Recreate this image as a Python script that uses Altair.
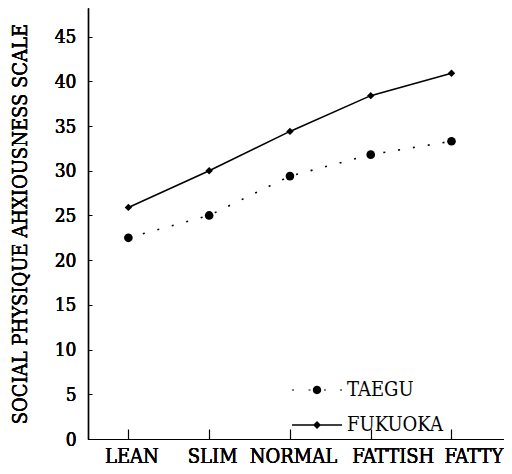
import altair as alt
import pandas as pd

categories = ["LEAN", "SLIM", "NORMAL", "FATTISH", "FATTY"]
taegu = [22.5, 25.0, 29.4, 31.8, 33.3]
fukuoka = [25.9, 30.0, 34.4, 38.4, 40.9]
series_names = ["TAEGU", "FUKUOKA"]
y_ticks = [0, 5, 10, 15, 20, 25, 30, 35, 40, 45]
cat_index = list(range(len(categories)))

rows = []
for i, c in enumerate(categories):
    rows.append({"idx": i, "cat": c, "series": "TAEGU", "value": taegu[i]})
    rows.append({"idx": i, "cat": c, "series": "FUKUOKA", "value": fukuoka[i]})
df = pd.DataFrame(rows)

FONT = "DejaVu Serif Condensed"
W, H = 416, 431
label_expr = "[" + ",".join(f"'{c}'" for c in categories) + "][datum.value]"

x_scale = alt.Scale(domain=[-0.5, 4.65], nice=False, zero=False)
y_scale = alt.Scale(domain=[0, 48.2], nice=False)

x_axis_bottom = alt.Axis(orient="bottom", values=cat_index, labelExpr=label_expr, title=None, ticks=False,
                         grid=False, domainColor="black", domainWidth=1.2,
                         labelFont=FONT, labelFontSize=20, labelColor="black",
                         labelOffset={"condition": {"test": "datum.value >= 3", "value": 22}, "value": 3},
                         labelPadding=7, labelAngle=0, labelFlush=False, labelOverlap=False)
x_axis_top = alt.Axis(orient="top", offset=-H, values=cat_index, labels=False, domain=False,
                      grid=False, ticks=True, tickSize=10, tickColor="black", tickWidth=1.2, title=None)
y_axis_left = alt.Axis(orient="left", values=y_ticks, ticks=False, grid=False, domainColor="black", domainWidth=1.2,
                       labelFont=FONT, labelFontSize=19, labelColor="black", labelPadding=12,
                       title="SOCIAL PHYSIQUE AHXIOUSNESS SCALE", titleFont=FONT, titleFontSize=20,
                       titleFontWeight="normal", titleColor="black", titlePadding=24)
y_axis_right = alt.Axis(orient="right", offset=-W, values=y_ticks, labels=False, domain=False,
                        grid=False, ticks=True, tickSize=4, tickColor="black", tickWidth=1, title=None)

base = alt.Chart(df)
xe = alt.X("idx:Q", scale=x_scale, axis=x_axis_bottom)
ye = alt.Y("value:Q", scale=y_scale, axis=y_axis_left)

fuk_line = base.transform_filter(alt.datum.series == "FUKUOKA").mark_line(
    color="black", strokeWidth=1.6).encode(x=xe, y=ye)
tae_line = base.transform_filter(alt.datum.series == "TAEGU").mark_line(
    color="black", strokeWidth=1.6, strokeDash=[2, 13]).encode(x=xe, y=ye)
tae_pts = base.transform_filter(alt.datum.series == "TAEGU").mark_circle(
    color="black", size=75, opacity=1).encode(x=xe, y=ye)
fuk_pts = base.transform_filter(alt.datum.series == "FUKUOKA").mark_point(
    shape="diamond", filled=True, color="black", size=55, opacity=1).encode(x=xe, y=ye)
tick_layer = base.mark_point(opacity=0).encode(
    x=alt.X("idx:Q", scale=x_scale, axis=x_axis_top),
    y=alt.Y("value:Q", scale=y_scale, axis=y_axis_right))

def dot(cx):
    return f"M{cx-0.1},-0.06L{cx+0.1},-0.06L{cx+0.1},0.06L{cx-0.1},0.06Z"

taegu_sym = (dot(-2.4) + dot(-0.75) + dot(0.8) + dot(2.4) +
             "M0.42,0A0.42,0.42,0,1,1,-0.42,0A0.42,0.42,0,1,1,0.42,0Z")
fuk_sym = ("M-2.5,-0.065L2.5,-0.065L2.5,0.065L-2.5,0.065Z"
           "M0,-0.4L0.4,0L0,0.4L-0.4,0Z")

legend_layer = base.transform_filter("false").mark_point(
    filled=True, color="black", opacity=1).encode(
    shape=alt.Shape("series:N",
                    scale=alt.Scale(domain=series_names, range=[taegu_sym, fuk_sym]),
                    legend=alt.Legend(title=None, orient="none", legendX=219, legendY=372,
                                      symbolSize=400, symbolFillColor="black",
                                      symbolStrokeWidth=0,
                                      symbolOpacity=1, labelFont=FONT, labelFontSize=20,
                                      labelColor="black", labelOffset=20, rowPadding=15,
                                      labelLimit=300)))

chart = alt.layer(fuk_line, tae_line, tae_pts, fuk_pts, tick_layer, legend_layer).resolve_axis(
    x="independent", y="independent").properties(
    width=W, height=H,
    autosize=alt.AutoSizeParams(type="none"),
    padding={"left": 80, "top": 0, "right": 0, "bottom": 28},
).configure_view(stroke=None)

chart.save("out.html", embed_options={"renderer": "svg", "actions": False})
